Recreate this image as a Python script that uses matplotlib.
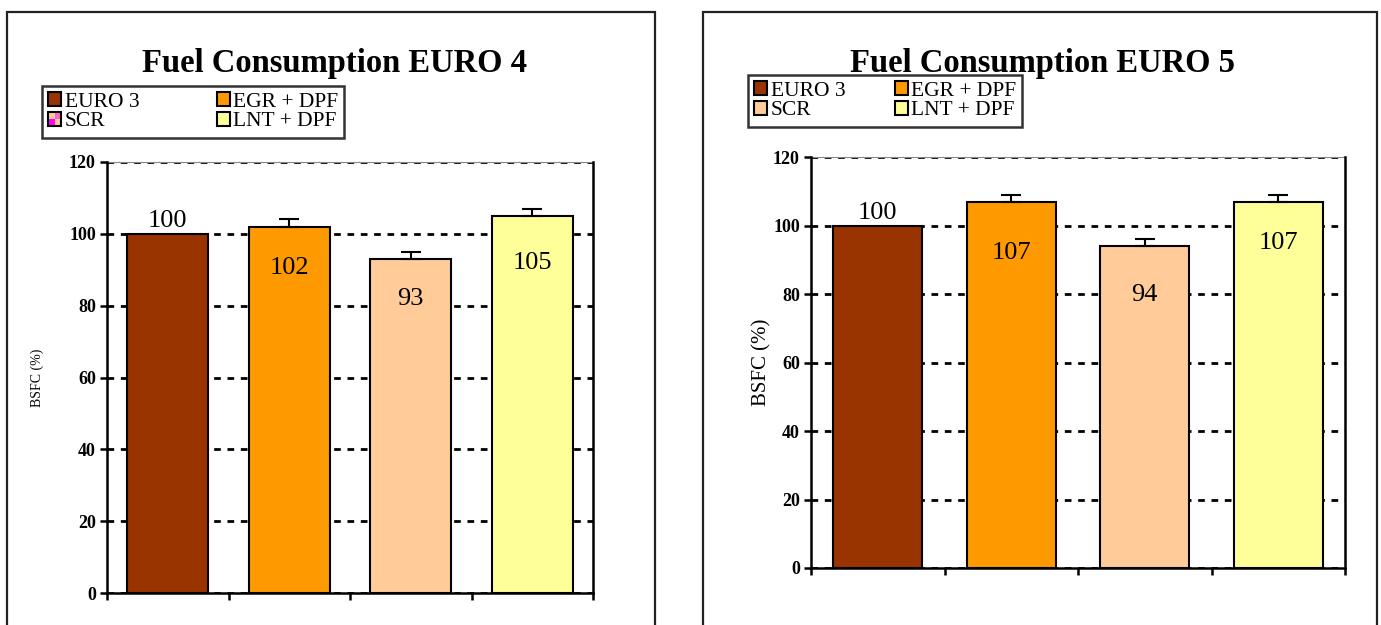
import matplotlib
matplotlib.use("Agg")
import matplotlib.pyplot as plt
from matplotlib.patches import Patch, Rectangle

# ---- data ----
series = ["EURO 3", "EGR + DPF", "SCR", "LNT + DPF"]
colors = ["#993300", "#FF9900", "#FFCC99", "#FFFF99"]

titles = ["Fuel Consumption EURO 4", "Fuel Consumption EURO 5"]
bsfc_euro4 = [100, 102, 93, 105]
err_euro4 = [0, 2, 2, 2]
bsfc_euro5 = [100, 107, 94, 107]
err_euro5 = [0, 2, 2, 2]
yticks = [0, 20, 40, 60, 80, 100, 120]

# ---- layout helpers (pixel -> figure fraction) ----
W, H = 1381, 625
plt.rcParams["font.family"] = ["Liberation Serif", "DejaVu Serif"]
fig = plt.figure(figsize=(W / 100, H / 100), dpi=100)


def fx(px):
    return px / W


def fy(py):
    return 1 - py / H


def px2pt(p):
    return p * 72 / 100


class QuadHandler:
    """Legend key made of four coloured quadrants with a black frame."""

    def __init__(self, quad_colors):
        self.quad_colors = quad_colors

    def legend_artist(self, legend, orig_handle, fontsize, handlebox):
        x0, y0 = -handlebox.xdescent, -handlebox.ydescent
        w, h = handlebox.width, handlebox.height
        tl, tr, bl, br = self.quad_colors
        for (qx, qy, c) in [(x0, y0 + h / 2, tl), (x0 + w / 2, y0 + h / 2, tr),
                            (x0, y0, bl), (x0 + w / 2, y0, br)]:
            handlebox.add_artist(Rectangle((qx, qy), w / 2, h / 2, facecolor=c,
                                           edgecolor="none",
                                           transform=handlebox.get_transform()))
        frame = Rectangle((x0, y0), w, h, facecolor="none", edgecolor="black",
                          lw=1.5, transform=handlebox.get_transform())
        handlebox.add_artist(frame)
        return frame


def panel(frame_px, axes_px, title, values, errs, label_offsets, ylabel_size,
          ylabel_pad, legend_px, colspacing, scr_pattern):
    fl, fr, ft = frame_px
    # outer chart frame
    fig.add_artist(Rectangle((fx(fl), -0.05), fx(fr) - fx(fl), fy(ft) + 0.05,
                             transform=fig.transFigure, facecolor="none",
                             edgecolor="#222222", lw=1.6, zorder=0))
    # title centred on the chart frame
    fig.text(fx((fl + fr) / 2 + 3), fy(72), title, ha="center", va="baseline",
             fontsize=23.5, fontweight="bold")

    al, ar, at, ab = axes_px
    ax = fig.add_axes([fx(al), fy(ab), (ar - al) / W, (ab - at) / H])
    x = list(range(len(values)))
    ax.bar(x, values, width=0.67, color=colors, edgecolor="black", lw=1.5,
           zorder=2)
    for xi, v, e in zip(x, values, errs):
        if e > 0:
            ax.errorbar(xi, v, yerr=[[0], [e]], fmt="none", ecolor="black",
                        elinewidth=1.5, capsize=7, capthick=1.5, zorder=3)

    # value labels
    for xi, v, off in zip(x, values, label_offsets):
        if off is None:
            ax.annotate(f"{v}", (xi, v), xytext=(0, px2pt(7)),
                        textcoords="offset points", ha="center",
                        va="baseline", fontsize=19, zorder=4)
        else:
            ax.annotate(f"{v}", (xi, v), xytext=(0, -px2pt(off)),
                        textcoords="offset points", ha="center",
                        va="center", fontsize=19, zorder=4)

    ax.set_xlim(-0.5, len(values) - 0.5)
    ax.set_ylim(0, 120)
    ax.set_yticks(yticks)
    ax.set_yticklabels([str(t) for t in yticks], fontsize=13,
                       fontweight="bold")
    ax.set_xticks([i - 0.5 for i in range(len(values) + 1)])
    ax.set_xticklabels([])
    ax.tick_params(axis="both", direction="out", length=5, width=1.8,
                   color="black", pad=3)
    ax.yaxis.grid(True, color="black", lw=2, linestyle=(0, (2.4, 2.4)),
                  zorder=1)
    ax.set_axisbelow(True)
    for s in ["left", "bottom", "right"]:
        ax.spines[s].set_linewidth(1.8)
        ax.spines[s].set_color("black")
        ax.spines[s].set_zorder(5)
    ax.spines["top"].set_linewidth(0.8)
    ax.spines["top"].set_color("#888888")
    ax.set_ylabel("BSFC (%)", fontsize=ylabel_size, labelpad=ylabel_pad)

    # legend: EURO 3 / SCR in the first column, EGR / LNT in the second
    handles = [Patch(facecolor=c, edgecolor="black", lw=1.5) for c in colors]
    order = [0, 2, 1, 3]
    hmap = {}
    if scr_pattern is not None:
        hmap[handles[2]] = QuadHandler(scr_pattern)
    lx, ly = legend_px
    leg = fig.legend([handles[i] for i in order], [series[i] for i in order],
                     ncol=2, loc="upper left",
                     bbox_to_anchor=(fx(lx), fy(ly)),
                     bbox_transform=fig.transFigure, fontsize=15.5,
                     handlelength=0.6, handleheight=0.6, handletextpad=0.15,
                     columnspacing=colspacing, labelspacing=0.0,
                     borderpad=0.3, borderaxespad=0, frameon=True,
                     fancybox=False, handler_map=hmap)
    leg.get_frame().set_edgecolor("black")
    leg.get_frame().set_linewidth(1.8)
    return ax


panel(frame_px=(7, 655, 12), axes_px=(107, 593, 162, 593), title=titles[0],
      values=bsfc_euro4, errs=err_euro4, label_offsets=[None, 41, 40, 47],
      ylabel_size=10, ylabel_pad=18, legend_px=(42, 86), colspacing=3.6,
      scr_pattern=["#FFCC99", "#FF66CC", "#FF00FF", "#FFCC99"])

panel(frame_px=(703, 1377, 12), axes_px=(811, 1345, 157, 568),
      title=titles[1], values=bsfc_euro5, errs=err_euro5,
      label_offsets=[None, 51, 49, 41], ylabel_size=15, ylabel_pad=1,
      legend_px=(748, 75), colspacing=2.3, scr_pattern=None)

fig.savefig("out.png", dpi=100)
